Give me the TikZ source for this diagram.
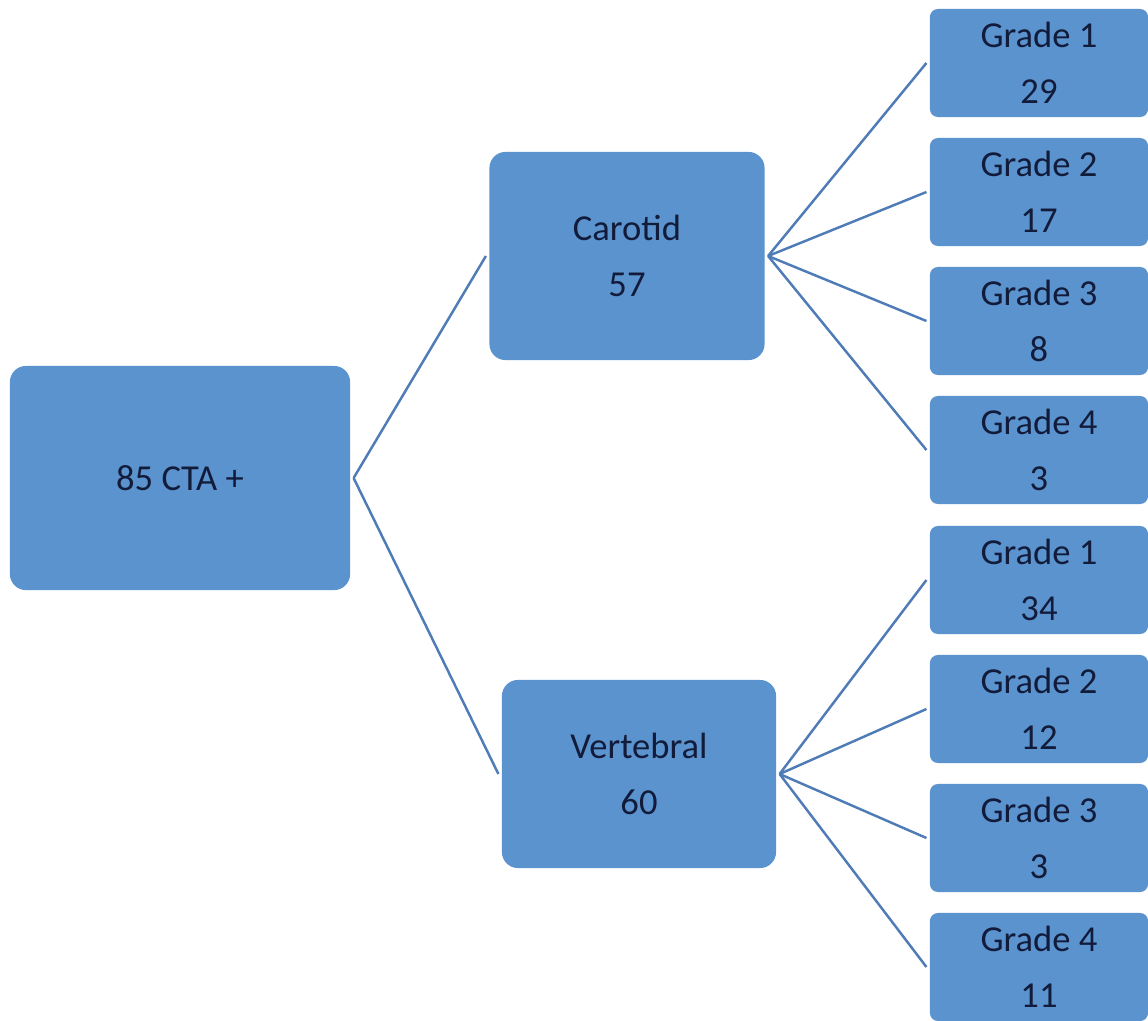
\documentclass[tikz,border=0pt]{standalone}
\usepackage{fontspec}
\setmainfont{Carlito}
\definecolor{boxfill}{RGB}{91,147,207}
\definecolor{linkline}{RGB}{79,124,182}
\definecolor{boxtext}{RGB}{18,28,58}
\begin{document}
\begin{tikzpicture}[x=0.01cm,y=-0.01cm,
  box/.style={rectangle, fill=boxfill, text=boxtext, inner sep=0pt, align=center,
    font=\fontsize{10.4}{15.8}\selectfont},
  bigbox/.style={box, rounded corners=0.16cm},
  gradebox/.style={box, rounded corners=0.08cm, minimum width=2.18cm, minimum height=1.08cm},
  link/.style={draw=linkline, line width=0.7pt}]
\useasboundingbox (0,0) rectangle (1148,1021);

% root and second-level boxes
\node[bigbox, minimum width=3.40cm, minimum height=2.24cm] (root) at (180,478) {85 CTA +};
\node[bigbox, minimum width=2.75cm, minimum height=2.08cm] (car) at (627,256) {Carotid\\57};
\node[bigbox, minimum width=2.74cm, minimum height=1.88cm] (ver) at (639,774) {Vertebral\\60};

% grade boxes
\node[gradebox] (c1) at (1039,63)  {Grade 1\\29};
\node[gradebox] (c2) at (1039,192) {Grade 2\\17};
\node[gradebox] (c3) at (1039,321) {Grade 3\\8};
\node[gradebox] (c4) at (1039,450) {Grade 4\\3};
\node[gradebox] (v1) at (1039,580) {Grade 1\\34};
\node[gradebox] (v2) at (1039,709) {Grade 2\\12};
\node[gradebox] (v3) at (1039,838) {Grade 3\\3};
\node[gradebox] (v4) at (1039,967) {Grade 4\\11};

% connectors
\draw[link] ([xshift=0.8pt]root.east) -- ([xshift=-0.8pt]car.west);
\draw[link] ([xshift=0.8pt]root.east) -- ([xshift=-0.8pt]ver.west);
\foreach \g in {c1,c2,c3,c4}
  \draw[link] ([xshift=0.8pt]car.east) -- ([xshift=-0.8pt]\g.west);
\foreach \g in {v1,v2,v3,v4}
  \draw[link] ([xshift=0.8pt]ver.east) -- ([xshift=-0.8pt]\g.west);
\end{tikzpicture}
\end{document}
